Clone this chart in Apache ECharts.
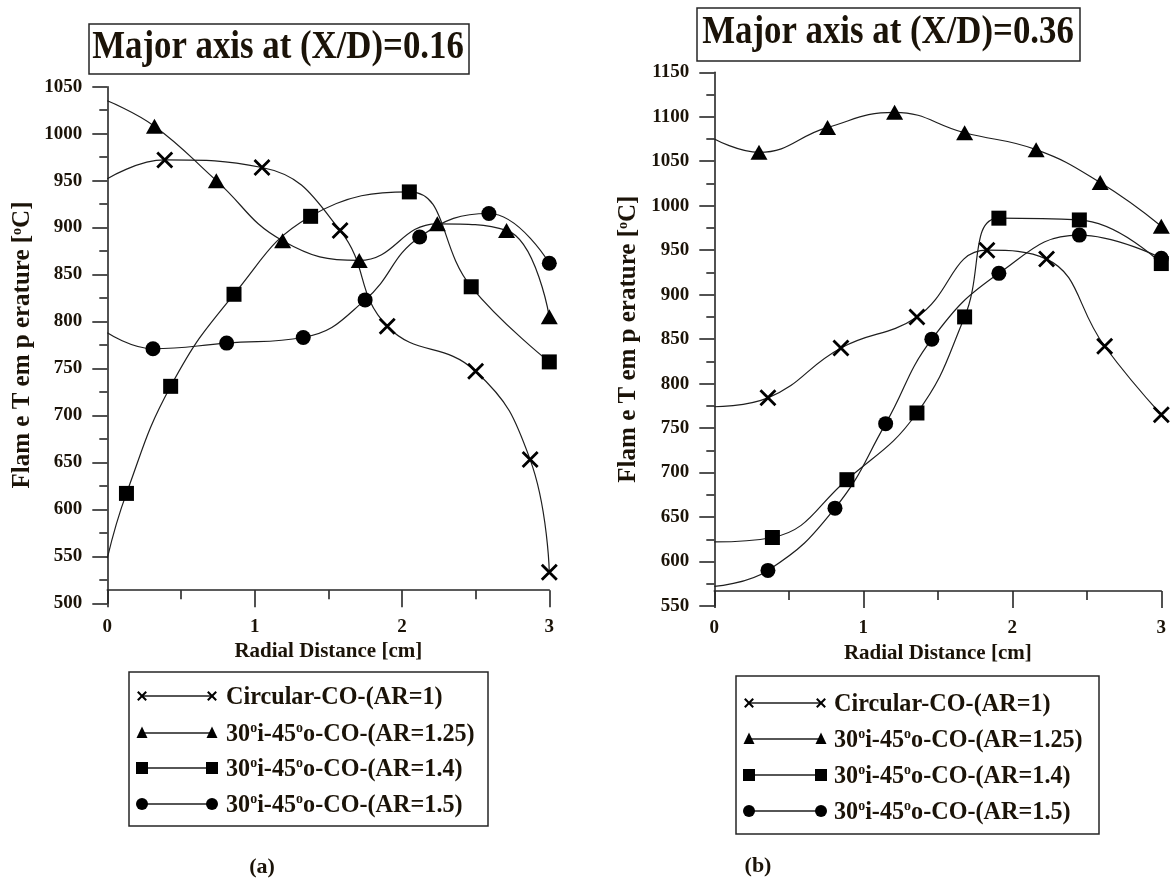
<!DOCTYPE html>
<html>
<head>
<meta charset="utf-8">
<script src="https://cdn.jsdelivr.net/npm/echarts@6/dist/echarts.min.js"></script>
<style>
  html, body { margin: 0; padding: 0; background: #ffffff; }
  #chart { width: 1172px; height: 881px; }
</style>
</head>
<body>
<div id="chart"></div>
<script>
// ---- Panel (a): major axis at X/D = 0.16 — radial distance [cm] / flame temperature [ºC]
const a_circ_r  = [0, 0.39, 1.05, 1.58, 1.90, 2.50, 2.87, 3.00];
const a_circ_t  = [952, 972, 964, 897, 795, 747, 653, 533];
const a_ar125_r = [0, 0.32, 0.74, 1.19, 1.71, 2.24, 2.71, 3.00];
const a_ar125_t = [1035, 1008, 950, 886, 865, 904, 897, 805];
const a_ar14_r  = [0, 0.13, 0.43, 0.86, 1.38, 2.05, 2.47, 3.00];
const a_ar14_t  = [548, 617, 731, 829, 912, 938, 837, 757];
const a_ar15_r  = [0, 0.31, 0.81, 1.33, 1.75, 2.12, 2.59, 3.00];
const a_ar15_t  = [788, 771, 777, 783, 823, 890, 915, 862];

// ---- Panel (b): major axis at X/D = 0.36
const b_circ_r  = [0, 0.36, 0.85, 1.36, 1.83, 2.23, 2.62, 3.00];
const b_circ_t  = [774, 784, 840, 875, 950, 940, 842, 765];
const b_ar125_r = [0, 0.30, 0.76, 1.21, 1.68, 2.16, 2.59, 3.00];
const b_ar125_t = [1075, 1060, 1088, 1105, 1082, 1063, 1026, 977];
const b_ar14_r  = [0, 0.39, 0.89, 1.36, 1.68, 1.91, 2.45, 3.00];
const b_ar14_t  = [622, 627, 692, 767, 875, 986, 984, 935];
const b_ar15_r  = [0, 0.36, 0.81, 1.15, 1.46, 1.91, 2.45, 3.00];
const b_ar15_t  = [572, 590, 660, 755, 850, 924, 967, 941];

// ---- Axis ranges, ticks and texts
const radialRange = [0, 3];
const a_tempRange = [500, 1050];
const b_tempRange = [550, 1150];
const a_axisCross = 514;   // temperature at which the radial axis is drawn, panel (a)
const b_axisCross = 567;   // same for panel (b)
const tempStep = 50;
const radialStep = 1;
const seriesNames = ['Circular-CO-(AR=1)', '30{s|o}i-45{s|o}o-CO-(AR=1.25)', '30{s|o}i-45{s|o}o-CO-(AR=1.4)', '30{s|o}i-45{s|o}o-CO-(AR=1.5)'];
const plainNames  = ['Circular-CO-(AR=1)', '30ºi-45ºo-CO-(AR=1.25)', '30ºi-45ºo-CO-(AR=1.4)', '30ºi-45ºo-CO-(AR=1.5)'];
const panelTitles = ['Major axis at (X/D)=0.16', 'Major axis at (X/D)=0.36'];
const panelTags = ['(a)', '(b)'];
const xName = 'Radial Distance [cm]';
const yName = 'Flam e T em p erature [{s|o}C]';

const FONT = '"Liberation Serif", "Times New Roman", serif';
const INK = '#1b1308';
const AXIS = '#262626';
const LINE = '#1e1e1e';
const X_PATH = 'path://M0,0L10,10M10,0L0,10';

const gridA = { left: 107.3, top: 86.7, width: 442, height: 516.6 };
const gridB = { left: 714.3, top: 72.3, width: 447, height: 533.7 };

// curve ends on the axis carry no marker
function points(r, t) {
  return r.map((x, i) => x === 0 ? { value: [x, t[i]], symbol: 'none' } : [x, t[i]]);
}

const markerStyles = [
  { symbol: X_PATH, symbolSize: 15, itemStyle: { color: 'rgba(0,0,0,0)', borderColor: '#000', borderWidth: 2.8 } },
  { symbol: 'triangle', symbolSize: [17, 15], itemStyle: { color: '#000', borderWidth: 0 } },
  { symbol: 'rect', symbolSize: 15, itemStyle: { color: '#000', borderWidth: 0 } },
  { symbol: 'circle', symbolSize: 15, itemStyle: { color: '#000', borderWidth: 0 } }
];

function lineSeries(idx, gi, r, t) {
  const m = markerStyles[idx];
  return {
    type: 'line', name: plainNames[idx] + (gi ? ' ' : ''),
    xAxisIndex: gi, yAxisIndex: gi,
    data: points(r, t),
    smooth: 0.45,
    symbol: m.symbol, symbolSize: m.symbolSize, itemStyle: m.itemStyle,
    showAllSymbol: true,
    lineStyle: { color: LINE, width: 1.2 },
    silent: true, animation: false,
    emphasis: { disabled: true }
  };
}

function xAxisOpt(gi, grid, range, cross, labelMargin, nameGap) {
  const offset = -(cross - range[0]) / (range[1] - range[0]) * grid.height;
  return {
    type: 'value', gridIndex: gi,
    min: radialRange[0], max: radialRange[1], interval: radialStep,
    offset: offset,
    axisLine: { show: true, onZero: false, lineStyle: { color: AXIS, width: 1.6 } },
    axisTick: { show: true, length: 17, lineStyle: { color: AXIS, width: 1.6 } },
    minorTick: { show: true, splitNumber: 2, length: 9, lineStyle: { color: AXIS, width: 1.6 } },
    splitLine: { show: false }, minorSplitLine: { show: false },
    axisLabel: { margin: labelMargin, color: INK, fontFamily: FONT, fontWeight: 'bold', fontSize: 19,
                 formatter: v => String(v) },
    name: xName, nameLocation: 'middle', nameGap: nameGap,
    nameTextStyle: { color: INK, fontFamily: FONT, fontWeight: 'bold', fontSize: 21 }
  };
}

function yAxisOpt(gi, range, nameGap) {
  return {
    type: 'value', gridIndex: gi,
    min: range[0], max: range[1], interval: tempStep,
    axisLine: { show: true, onZero: false, lineStyle: { color: AXIS, width: 1.6 } },
    axisTick: { show: true, length: 15, lineStyle: { color: AXIS, width: 1.6 } },
    minorTick: { show: true, splitNumber: 2, length: 8, lineStyle: { color: AXIS, width: 1.6 } },
    splitLine: { show: false }, minorSplitLine: { show: false },
    axisLabel: { margin: 25, color: INK, fontFamily: FONT, fontWeight: 'bold', fontSize: 19,
                 formatter: v => String(v) },
    name: yName, nameLocation: 'middle', nameGap: nameGap, nameRotate: 90,
    nameTextStyle: {
      color: INK, fontFamily: FONT, fontWeight: 'bold', fontSize: 25,
      rich: { s: { fontFamily: FONT, fontWeight: 'bold', fontSize: 14, verticalAlign: 'top', color: INK } }
    }
  };
}

// ---- Framed panel titles
function titleBox(rect, cx, cy, text) {
  return {
    type: 'group', silent: true,
    children: [
      { type: 'rect', shape: { x: rect[0], y: rect[1], width: rect[2] - rect[0], height: rect[3] - rect[1] },
        style: { fill: '#fff', stroke: AXIS, lineWidth: 1.5 } },
      { type: 'text', x: cx, y: cy, scaleX: 0.87,
        style: { text: text, fill: INK, fontFamily: FONT, fontWeight: 'bold', fontSize: 40,
                 align: 'center', verticalAlign: 'middle' } }
    ]
  };
}

// ---- Legend keys: line with a marker at each end
function keyMarker(kind, cx, cy) {
  const black = { fill: '#000', stroke: '#000', lineWidth: 0 };
  if (kind === 0) {
    const s = 4.2;
    return { type: 'group', children: [
      { type: 'line', shape: { x1: cx - s, y1: cy - s, x2: cx + s, y2: cy + s }, style: { stroke: '#000', lineWidth: 2 } },
      { type: 'line', shape: { x1: cx + s, y1: cy - s, x2: cx - s, y2: cy + s }, style: { stroke: '#000', lineWidth: 2 } }
    ] };
  }
  if (kind === 1) {
    return { type: 'polygon', shape: { points: [[cx, cy - 6.5], [cx + 5.5, cy + 5], [cx - 5.5, cy + 5]] }, style: black };
  }
  if (kind === 2) {
    return { type: 'rect', shape: { x: cx - 6, y: cy - 6, width: 12, height: 12 }, style: black };
  }
  return { type: 'circle', shape: { cx: cx, cy: cy, r: 6 }, style: black };
}

function legendBox(box, rows, sx1, sx2, tx) {
  const children = [
    { type: 'rect', shape: { x: box[0], y: box[1], width: box[2] - box[0], height: box[3] - box[1] },
      style: { fill: '#fff', stroke: AXIS, lineWidth: 1.5 } }
  ];
  rows.forEach((y, i) => {
    children.push({ type: 'line', shape: { x1: sx1, y1: y, x2: sx2, y2: y }, style: { stroke: LINE, lineWidth: 1.3 } });
    children.push(keyMarker(i, sx1, y));
    children.push(keyMarker(i, sx2, y));
    children.push({
      type: 'text', x: tx, y: y + 1, scaleX: 0.93,
      style: {
        text: seriesNames[i], fill: INK, fontFamily: FONT, fontWeight: 'bold', fontSize: 26,
        align: 'left', verticalAlign: 'middle',
        rich: { s: { fontFamily: FONT, fontWeight: 'bold', fontSize: 15, verticalAlign: 'top', fill: INK, color: INK } }
      }
    });
  });
  return { type: 'group', silent: true, children: children };
}

function tag(text, cx, cy) {
  return { type: 'text', x: cx, y: cy, silent: true,
    style: { text: text, fill: INK, fontFamily: FONT, fontWeight: 'bold', fontSize: 22, align: 'center', verticalAlign: 'middle' } };
}

const chart = echarts.init(document.getElementById('chart'), null, { renderer: 'canvas' });

chart.setOption({
  backgroundColor: '#ffffff',
  animation: false,
  grid: [gridA, gridB],
  xAxis: [
    xAxisOpt(0, gridA, a_tempRange, a_axisCross, 27, 49),
    xAxisOpt(1, gridB, b_tempRange, b_axisCross, 28, 50)
  ],
  yAxis: [
    yAxisOpt(0, a_tempRange, 72),
    yAxisOpt(1, b_tempRange, 73)
  ],
  series: [
    lineSeries(0, 0, a_circ_r, a_circ_t),
    lineSeries(1, 0, a_ar125_r, a_ar125_t),
    lineSeries(2, 0, a_ar14_r, a_ar14_t),
    lineSeries(3, 0, a_ar15_r, a_ar15_t),
    lineSeries(0, 1, b_circ_r, b_circ_t),
    lineSeries(1, 1, b_ar125_r, b_ar125_t),
    lineSeries(2, 1, b_ar14_r, b_ar14_t),
    lineSeries(3, 1, b_ar15_r, b_ar15_t)
  ],
  graphic: [
    titleBox([89, 24, 469, 74], 278, 48, panelTitles[0]),
    titleBox([697, 8, 1080, 61], 888, 33, panelTitles[1]),
    legendBox([129, 672, 488, 826], [696, 733, 768, 804], 142, 212, 226),
    legendBox([736, 676, 1099, 834], [703, 739, 775, 811], 749, 821, 834),
    tag(panelTags[0], 262, 867),
    tag(panelTags[1], 758, 866)
  ]
});
</script>
</body>
</html>
